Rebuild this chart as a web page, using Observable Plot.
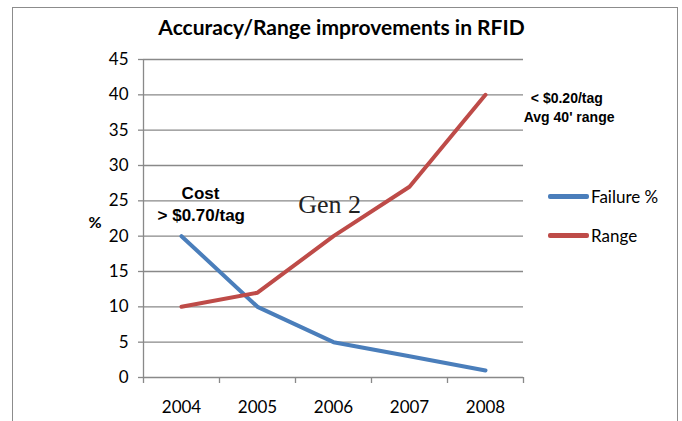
<!DOCTYPE html>
<html>
<head>
<meta charset="utf-8">
<script src="https://cdn.jsdelivr.net/npm/d3@7"></script>
<script src="https://cdn.jsdelivr.net/npm/@observablehq/plot@0.6"></script>
<style>
  html, body { margin: 0; padding: 0; background: #fff; }
  #wrap { position: relative; width: 682px; height: 421px; overflow: hidden; }
  #border { position: absolute; left: 12px; top: 7px; width: 666px; height: 430px; border: 1.5px solid #8c8c8c; box-sizing: border-box; pointer-events: none; }
  #chart { position: absolute; left: 0; top: 0; }
  .legend { position: absolute; left: 548px; font-family: Lato, "Open Sans", sans-serif; font-size: 17px; color: #000; display: flex; align-items: center; }
  .legend .sw { width: 41px; height: 4.5px; border-radius: 2px; margin-right: 2px; }
</style>
</head>
<body>
<div id="wrap">
  <div id="chart"></div>
  <div id="border"></div>
  <div class="legend" id="lg1" style="top:186px"><span class="sw" style="background:#4a7ebb"></span><span>Failure %</span></div>
  <div class="legend" id="lg2" style="top:225px"><span class="sw" style="background:#be4b48"></span><span>Range</span></div>
</div>
<script>
const years = [2004, 2005, 2006, 2007, 2008];
const failure = [20, 10, 5, 3, 1];
const range = [10, 12, 20, 27, 40];
const yTicks = [0, 5, 10, 15, 20, 25, 30, 35, 40, 45];
const seriesNames = ["Failure %", "Range"];
const colors = ["#4a7ebb", "#be4b48"];

const rows = [];
years.forEach((yr, i) => {
  rows.push({year: yr, value: failure[i], series: seriesNames[0]});
  rows.push({year: yr, value: range[i], series: seriesNames[1]});
});
const boundaries = d3.range(years.length + 1).map(i => years[0] - 0.5 + i);

const font = 'Lato, "Open Sans", sans-serif';
const sans = "Liberation Sans, Arial, sans-serif";
const chart = Plot.plot({
  width: 682,
  height: 421,
  marginLeft: 143,
  marginRight: 159,
  marginTop: 59,
  marginBottom: 44,
  style: {fontFamily: font, fontSize: "16px", color: "#000", background: "transparent", overflow: "visible"},
  x: {type: "linear", domain: [boundaries[0], boundaries[boundaries.length - 1]]},
  y: {domain: [0, 45]},
  color: {domain: seriesNames, range: colors},
  marks: [
    Plot.ruleY(yTicks, {x1: boundaries[0], x2: boundaries[boundaries.length - 1], stroke: "#898989", strokeWidth: 1.3}),
    Plot.ruleX([boundaries[0]], {y1: 0, y2: 45, stroke: "#898989", strokeWidth: 1.3}),
    Plot.axisY({ticks: yTicks, tickSize: 5, tickPadding: 10, stroke: "#898989", label: null, fontSize: 17, strokeWidth: 1.3}),
    Plot.axisX({ticks: boundaries, tickSize: 6, tickFormat: () => "", stroke: "#898989", strokeWidth: 1.3, label: null}),
    Plot.axisX({ticks: years, tickSize: 0, tickPadding: 23, tickFormat: d => String(d), label: null, fontSize: 17}),
    Plot.line(rows, {x: "year", y: "value", z: "series", stroke: "series", strokeWidth: 4}),
    Plot.text(["Accuracy/Range improvements in RFID"], {frameAnchor: "top", lineAnchor: "middle", dx: 8, dy: -31, fontWeight: "bold", fontSize: 21, fontFamily: font}),
    Plot.text(["%"], {frameAnchor: "left", dx: -55, dy: 4, fontWeight: "bold", fontSize: 16, fontFamily: font}),
    Plot.text(["Cost"], {x: 2004.25, y: 26, fontWeight: "bold", fontSize: 17, fontFamily: sans}),
    Plot.text(["> $0.70/tag"], {x: 2004.26, y: 22.9, fontWeight: "bold", fontSize: 17, fontFamily: sans}),
    Plot.text(["Gen 2"], {x: 2005.95, y: 24.4, fontSize: 26, fontFamily: "Liberation Serif, Times New Roman, serif", fill: "#222"}),
    Plot.text(["< $0.20/tag"], {x: 2009.07, y: 39.5, fontWeight: "bold", fontSize: 14, fontFamily: sans}),
    Plot.text(["Avg 40' range"], {x: 2009.1, y: 36.8, fontWeight: "bold", fontSize: 14, fontFamily: sans})
  ]
});
document.getElementById("chart").appendChild(chart);
</script>
</body>
</html>
